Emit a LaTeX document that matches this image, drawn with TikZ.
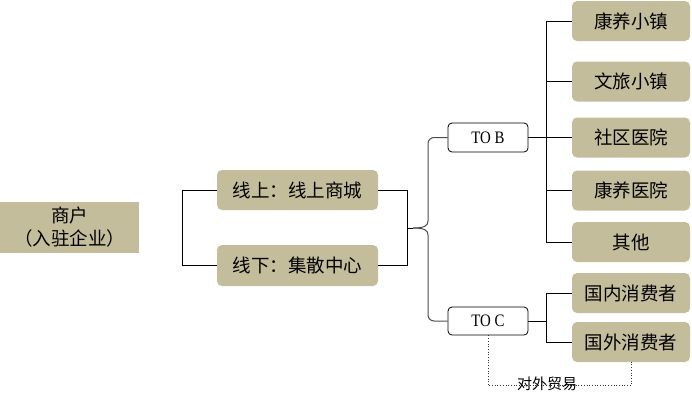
\documentclass[tikz,border=0pt]{standalone}
\usepackage{fontspec}
\setmainfont{Liberation Serif}
\newfontfamily\cjk{Noto Sans CJK SC}
\definecolor{tanc}{RGB}{196,189,156}
\tikzset{
  tanbox/.style={fill=tanc, rounded corners=5pt, minimum width=118pt, minimum height=40pt, inner sep=0pt, font=\cjk\fontsize{18.5}{21}\selectfont},
  midbox/.style={tanbox, minimum width=161pt},
  tobox/.style={draw=black, fill=white, line width=0.8pt, rounded corners=4pt, minimum width=80pt, minimum height=29pt, inner sep=0pt, font=\fontsize{17.5}{20}\selectfont},
  conn/.style={draw=black, line width=0.8pt},
  gconn/.style={draw=black!70, line width=1pt}
}
\begin{document}
\begin{tikzpicture}[x=1pt,y=-1pt]
\useasboundingbox (0,0) rectangle (692,402);
% root
\node[fill=tanc, minimum width=139pt, minimum height=51pt, inner sep=0pt, align=center, font=\cjk\fontsize{18.5}{23}\selectfont] (root) at (69.5,227.5) {商户\\（入驻企业）};
% middle
\node[midbox] (on) at (297.5,190) {线上：线上商城};
\node[midbox, minimum height=41pt] (off) at (297.5,265.5) {线下：集散中心};
% TO nodes
\node[tobox] (tob) at (488,137.5) {\scalebox{0.85}[1]{TO B}};
\node[tobox, minimum height=28pt] (toc) at (488,321) {\scalebox{0.85}[1]{TO C}};
% right column
\node[tanbox] (k1) at (631,21) {康养小镇};
\node[tanbox] (k2) at (631,81.5) {文旅小镇};
\node[tanbox] (k3) at (631,137.5) {社区医院};
\node[tanbox] (k4) at (631,190.5) {康养医院};
\node[tanbox] (k5) at (631,242) {其他};
\node[tanbox] (c1) at (631,293) {国内消费者};
\node[tanbox] (c2) at (631,342) {国外消费者};
% left bracket
\draw[conn] (on.west) -- ++(-34,0) coordinate (lb) -- (lb |- off.west) -- (off.west);
% right bracket
\draw[conn] (on.east) -- ++(29,0) coordinate (rb) -- (rb |- off.east) -- (off.east);
\coordinate (m) at (407,228);
\coordinate (bt) at (428,221);
\coordinate (bb) at (428,235);
\draw[conn] (m) -- (413,228);
\draw[gconn] (bt) .. controls (428,226) and (424,228) .. (413,228);
\draw[gconn] (bb) .. controls (428,230) and (424,228) .. (413,228);
\draw[gconn, rounded corners=6pt] (tob.west) -- (tob.west -| bt) -- (bt);
\draw[gconn, rounded corners=6pt] (bb) -- (bb |- toc.west) -- (toc.west);
% TO B branches
\draw[conn] (tob.east) -- (k3.west);
\draw[conn] (k1.west) -- ++(-25,0) coordinate (t1) -- (t1 |- k5.west) -- (k5.west);
\draw[conn] (k2.west) -- (k2.west -| t1);
\draw[conn] (k4.west) -- (k4.west -| t1);
% TO C branches
\draw[conn] (toc.east) -- (toc.east -| t1);
\draw[conn] (c1.west) -- (c1.west -| t1) -- (c2.west -| t1) -- (c2.west);
% dotted link
\draw[dotted, line width=0.7pt, black!80] (toc.south) -- ++(0,50) coordinate (d1) -- (d1 -| c2.south) -- (c2.south);
\node[font=\cjk\fontsize{15}{17}\selectfont, inner sep=0pt] (lbl) at (547,384) {对外贸易};
\end{tikzpicture}
\end{document}
